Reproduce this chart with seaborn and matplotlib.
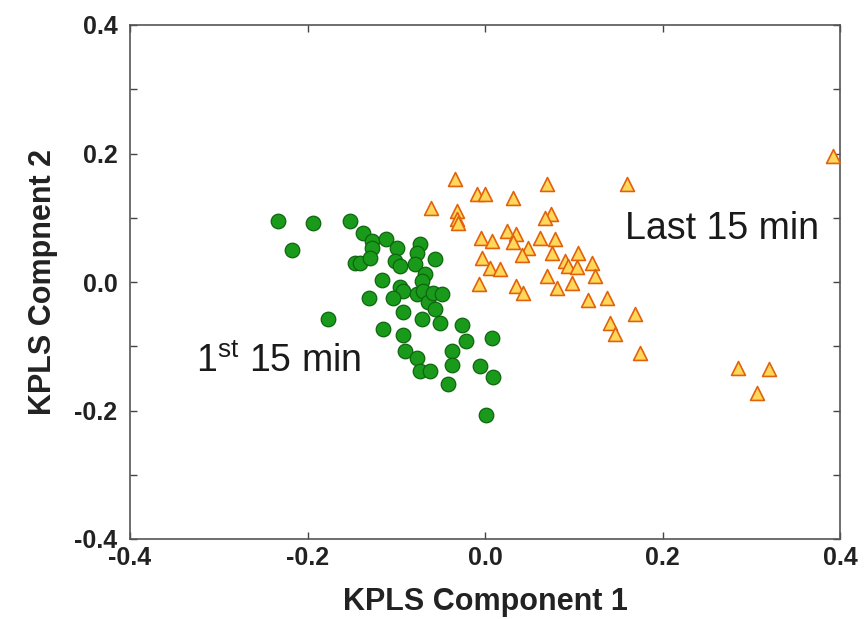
import matplotlib
matplotlib.use("Agg")
import matplotlib.pyplot as plt
import seaborn as sns
import pandas as pd
from matplotlib.ticker import MultipleLocator

first_x = [-0.233, -0.194, -0.152, -0.217, -0.137, -0.127, -0.127, -0.112, -0.099, -0.073,
           -0.077, -0.146, -0.141, -0.130, -0.101, -0.096, -0.079, -0.056, -0.068, -0.071,
           -0.116, -0.096, -0.092, -0.077, -0.070, -0.064, -0.059, -0.048, -0.131, -0.104,
           -0.092, -0.056, -0.071, -0.051, -0.177, -0.115, -0.092, -0.026, -0.021, 0.008,
           -0.090, -0.077, -0.037, -0.037, -0.006, 0.009, -0.073, -0.062, -0.042, 0.001]
first_y = [0.095, 0.092, 0.095, 0.050, 0.076, 0.064, 0.053, 0.067, 0.053, 0.059,
           0.045, 0.030, 0.030, 0.037, 0.033, 0.025, 0.028, 0.036, 0.012, 0.002,
           0.003, -0.008, -0.014, -0.019, -0.014, -0.031, -0.017, -0.019, -0.025, -0.025,
           -0.047, -0.042, -0.057, -0.064, -0.057, -0.073, -0.082, -0.067, -0.092, -0.087,
           -0.107, -0.118, -0.107, -0.129, -0.130, -0.148, -0.138, -0.138, -0.158, -0.207]

last_x = [-0.034, -0.009, 0.000, 0.032, 0.070, -0.061, -0.032, -0.032, -0.030, 0.074,
          0.068, -0.005, 0.008, 0.025, 0.035, 0.032, 0.062, 0.079, 0.049, 0.042,
          0.076, -0.003, 0.006, 0.017, 0.090, 0.093, 0.104, 0.105, 0.121, 0.070,
          0.098, 0.124, 0.081, -0.007, 0.035, 0.043, 0.116, 0.138, 0.392, 0.160,
          0.169, 0.141, 0.147, 0.175, 0.285, 0.320, 0.306]
last_y = [0.160, 0.137, 0.137, 0.130, 0.152, 0.115, 0.110, 0.098, 0.092, 0.106,
          0.099, 0.068, 0.064, 0.079, 0.075, 0.062, 0.068, 0.067, 0.053, 0.042,
          0.045, 0.037, 0.022, 0.020, 0.033, 0.025, 0.023, 0.045, 0.030, 0.009,
          -0.002, 0.009, -0.009, -0.003, -0.006, -0.017, -0.028, -0.025, 0.196, 0.152,
          -0.050, -0.064, -0.081, -0.110, -0.134, -0.135, -0.172]

tick_vals = [-0.4, -0.2, 0.0, 0.2, 0.4]
tick_labels = ["-0.4", "-0.2", "0.0", "0.2", "0.4"]

sns.set_style("white")
plt.rcParams["font.family"] = ["Liberation Sans", "DejaVu Sans"]
plt.rcParams["mathtext.fontset"] = "custom"
plt.rcParams["mathtext.rm"] = "Liberation Sans"

df1 = pd.DataFrame({"x": first_x, "y": first_y})
df2 = pd.DataFrame({"x": last_x, "y": last_y})

fig = plt.figure(figsize=(8.66, 6.19), dpi=100)
ax = fig.add_axes([130 / 866, 1 - 539 / 619, 710 / 866, 514 / 619])

sns.scatterplot(data=df1, x="x", y="y", ax=ax, marker="o", s=110,
                color="#1a9a1a", edgecolor="#0d650d", linewidth=0.9, zorder=3)
sns.scatterplot(data=df2, x="x", y="y", ax=ax, marker="^", s=100,
                color="#ffd75a", edgecolor="#e2620c", linewidth=1.2, zorder=3)

ax.set_xlim(-0.4, 0.4)
ax.set_ylim(-0.4, 0.4)
ax.set_xticks(tick_vals)
ax.set_xticklabels(tick_labels)
ax.set_yticks(tick_vals)
ax.set_yticklabels(tick_labels)
ax.yaxis.set_minor_locator(MultipleLocator(0.1))

for lbl in ax.get_xticklabels() + ax.get_yticklabels():
    lbl.set_fontweight("bold")
    lbl.set_fontsize(18)
    lbl.set_color("#222222")

ax.tick_params(which="both", direction="in", top=True, right=True,
               bottom=True, left=True, length=5, width=1, color="#444444")
ax.tick_params(axis="x", pad=5)
ax.tick_params(axis="y", pad=9)

for sp in ax.spines.values():
    sp.set_color("#555555")
    sp.set_linewidth(1.2)

ax.set_xlabel("KPLS Component 1", fontsize=22, fontweight="bold", labelpad=12, color="#222222")
ax.set_ylabel("KPLS Compnent 2", fontsize=22, fontweight="bold", labelpad=12, color="#222222")

ax.text(0.158, 0.082, "Last 15 min", fontsize=27, color="#1a1a1a", va="center", ha="left")
ax.text(-0.326, -0.124, r"1$^{\mathrm{st}}$ 15 min", fontsize=27, color="#1a1a1a",
        va="center", ha="left")

fig.savefig("out.png", dpi=100)
